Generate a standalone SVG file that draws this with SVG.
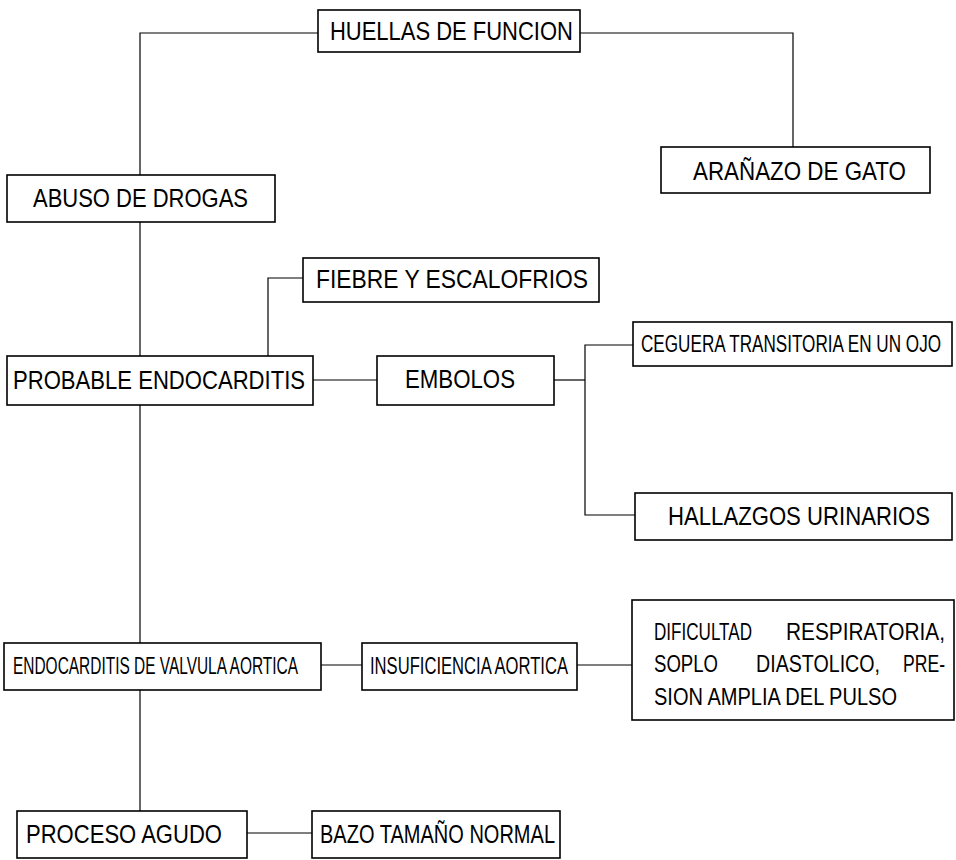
<svg xmlns="http://www.w3.org/2000/svg" width="956" height="860" viewBox="0 0 956 860">
<style>
.box{fill:#fff;stroke:#000;stroke-width:1.6}
.ln{fill:none;stroke:#000;stroke-width:1.2}
text{font-family:"Liberation Sans",Arial,sans-serif;fill:#000}
.t25{font-size:25px}
.t23{font-size:23px}
</style>
<rect width="956" height="860" fill="#fff"/>
<g id="connectors">
<polyline class="ln" points="318,33 140,33 140,175"/>
<polyline class="ln" points="580,33 793,33 793,147"/>
<line class="ln" x1="140" y1="222" x2="140" y2="356"/>
<polyline class="ln" points="303,278 268,278 268,356"/>
<line class="ln" x1="313" y1="380" x2="377" y2="380"/>
<line class="ln" x1="554" y1="380" x2="585" y2="380"/>
<polyline class="ln" points="633,345 585,345 585,515 635,515"/>
<line class="ln" x1="140" y1="405" x2="140" y2="643"/>
<line class="ln" x1="321" y1="665" x2="362" y2="665"/>
<line class="ln" x1="577" y1="665" x2="632" y2="665"/>
<line class="ln" x1="140" y1="690" x2="140" y2="811"/>
<line class="ln" x1="247" y1="833" x2="312" y2="833"/>
</g>
<g id="huellas">
<rect class="box" x="318" y="10" width="262" height="42"/>
<text class="t25" transform="translate(330,40) scale(0.88,1)" textLength="276" lengthAdjust="spacingAndGlyphs">HUELLAS DE FUNCION</text>
</g>
<g id="abuso">
<rect class="box" x="7" y="175" width="268" height="47"/>
<text class="t25" transform="translate(33,207) scale(0.879,1)" textLength="244.6" lengthAdjust="spacingAndGlyphs">ABUSO DE DROGAS</text>
</g>
<g id="aranazo">
<rect class="box" x="661" y="147" width="269" height="46"/>
<text class="t25" transform="translate(693,180) scale(0.886,1)" textLength="240.4" lengthAdjust="spacingAndGlyphs">ARAÑAZO DE GATO</text>
</g>
<g id="fiebre">
<rect class="box" x="303" y="258" width="296" height="44"/>
<text class="t25" transform="translate(316,288) scale(0.91,1)" textLength="298.9" lengthAdjust="spacingAndGlyphs">FIEBRE Y ESCALOFRIOS</text>
</g>
<g id="probable">
<rect class="box" x="7" y="356" width="306" height="49"/>
<text class="t25" transform="translate(13,389) scale(0.883,1)" textLength="330.7" lengthAdjust="spacingAndGlyphs">PROBABLE ENDOCARDITIS</text>
</g>
<g id="embolos">
<rect class="box" x="377" y="356" width="177" height="49"/>
<text class="t25" transform="translate(405,388) scale(0.889,1)" textLength="123.7" lengthAdjust="spacingAndGlyphs">EMBOLOS</text>
</g>
<g id="ceguera">
<rect class="box" x="633" y="322" width="319" height="44"/>
<text class="t23" transform="translate(641,352) scale(0.739,1)" textLength="406" lengthAdjust="spacingAndGlyphs">CEGUERA TRANSITORIA EN UN OJO</text>
</g>
<g id="hallazgos">
<rect class="box" x="635" y="493" width="317" height="47"/>
<text class="t25" transform="translate(668,525) scale(0.967,1)" textLength="271" lengthAdjust="spacingAndGlyphs">HALLAZGOS URINARIOS</text>
</g>
<g id="endocarditis-valvula">
<rect class="box" x="4" y="643" width="317" height="47"/>
<text class="t23" transform="translate(13,674) scale(0.662,1)" textLength="430.5" lengthAdjust="spacingAndGlyphs">ENDOCARDITIS DE VALVULA AORTICA</text>
</g>
<g id="insuficiencia">
<rect class="box" x="362" y="643" width="215" height="47"/>
<text class="t23" transform="translate(370,674) scale(0.714,1)" textLength="277.3" lengthAdjust="spacingAndGlyphs">INSUFICIENCIA AORTICA</text>
</g>
<g id="dificultad">
<rect class="box" x="632" y="600" width="322" height="120"/>
<g transform="translate(654,0) scale(0.8,1)">
<text class="t23"><tspan x="0" y="640" textLength="122.5" lengthAdjust="spacingAndGlyphs">DIFICULTAD</tspan><tspan x="165" y="640" textLength="198.75" lengthAdjust="spacingAndGlyphs">RESPIRATORIA,</tspan></text>
<text class="t23"><tspan x="0" y="672" textLength="80" lengthAdjust="spacingAndGlyphs">SOPLO</tspan><tspan x="127.5" y="672" textLength="155" lengthAdjust="spacingAndGlyphs">DIASTOLICO,</tspan><tspan x="311.25" y="672" textLength="52.5" lengthAdjust="spacingAndGlyphs">PRE-</tspan></text>
<text class="t23" x="0" y="705" textLength="303.75" lengthAdjust="spacingAndGlyphs">SION AMPLIA DEL PULSO</text>
</g>
</g>
<g id="proceso">
<rect class="box" x="17" y="811" width="230" height="47"/>
<text class="t25" transform="translate(26,843) scale(0.876,1)" textLength="223.7" lengthAdjust="spacingAndGlyphs">PROCESO AGUDO</text>
</g>
<g id="bazo">
<rect class="box" x="312" y="811" width="248" height="47"/>
<text class="t25" transform="translate(320,843) scale(0.794,1)" textLength="296" lengthAdjust="spacingAndGlyphs">BAZO TAMAÑO NORMAL</text>
</g>
</svg>
